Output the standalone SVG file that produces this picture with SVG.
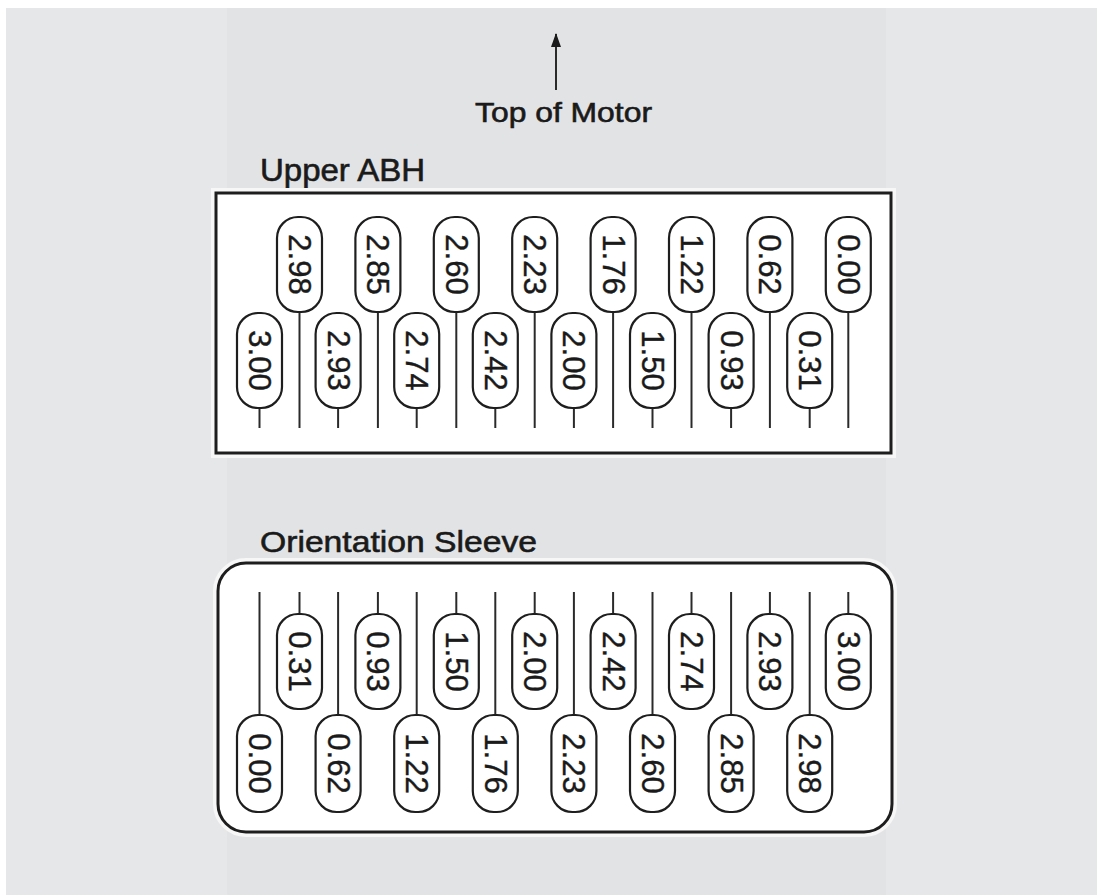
<svg xmlns="http://www.w3.org/2000/svg" width="1097" height="895" viewBox="0 0 1097 895">
<style>
.pill{fill:#ffffff;stroke:#1e1e1e;stroke-width:2.2}
.val{font-family:"Liberation Sans",Arial,sans-serif;font-size:31px;fill:#1a1a1a;stroke:#1a1a1a;stroke-width:0.4;text-anchor:middle;dominant-baseline:central}
.stem{stroke:#2a2a2a;stroke-width:2;fill:none}
.lbl{font-family:"Liberation Sans",Arial,sans-serif;fill:#1a1a1a;stroke:#1a1a1a;stroke-width:0.6}
.box{fill:#ffffff;stroke:#1e1e1e;stroke-width:3}
.halo{fill:none;stroke:#f7f7f8;stroke-width:10}
</style>
<defs>
<marker id="ah" markerWidth="14" markerHeight="10" refX="13" refY="5" orient="auto" markerUnits="userSpaceOnUse" viewBox="0 0 14 10">
<path d="M0,0 L14,5 L0,10 Z" fill="#1a1a1a"/>
</marker>
</defs>
<rect x="0" y="0" width="1097" height="895" fill="#ffffff"/>
<rect x="6" y="8" width="1091" height="887" fill="#e6e7e9"/>
<rect x="227" y="8" width="659" height="887" fill="#e2e3e5"/>

<g id="top-of-motor">
<text class="lbl" x="475" y="122" font-size="28" textLength="177" lengthAdjust="spacingAndGlyphs">Top of Motor</text>
</g>

<g id="upper-abh">
<text class="lbl" x="260" y="181" font-size="31" textLength="165" lengthAdjust="spacingAndGlyphs">Upper ABH</text>
<rect class="halo" x="216" y="193" width="675" height="260"/>
<rect class="box" x="216" y="193" width="675" height="260"/>
</g>

<g id="orientation-sleeve">
<text class="lbl" x="260" y="552" font-size="30" textLength="277" lengthAdjust="spacingAndGlyphs">Orientation Sleeve</text>
<rect class="halo" x="218" y="563" width="674" height="269" rx="28" ry="28"/>
<rect class="box" x="218" y="563" width="674" height="269" rx="28" ry="28"/>
</g>

<g id="connectors">
<line class="stem" x1="556" y1="90" x2="556" y2="34" marker-end="url(#ah)"/>
<!-- upper long stems -->
<line class="stem" x1="299.5" y1="312" x2="299.5" y2="428"/>
<line class="stem" x1="377.9" y1="312" x2="377.9" y2="428"/>
<line class="stem" x1="456.3" y1="312" x2="456.3" y2="428"/>
<line class="stem" x1="534.7" y1="312" x2="534.7" y2="428"/>
<line class="stem" x1="613.1" y1="312" x2="613.1" y2="428"/>
<line class="stem" x1="691.5" y1="312" x2="691.5" y2="428"/>
<line class="stem" x1="769.9" y1="312" x2="769.9" y2="428"/>
<line class="stem" x1="848.3" y1="312" x2="848.3" y2="428"/>
<!-- upper short stems -->
<line class="stem" x1="259.5" y1="408" x2="259.5" y2="428"/>
<line class="stem" x1="338.1" y1="408" x2="338.1" y2="428"/>
<line class="stem" x1="416.7" y1="408" x2="416.7" y2="428"/>
<line class="stem" x1="495.3" y1="408" x2="495.3" y2="428"/>
<line class="stem" x1="573.9" y1="408" x2="573.9" y2="428"/>
<line class="stem" x1="652.5" y1="408" x2="652.5" y2="428"/>
<line class="stem" x1="731.1" y1="408" x2="731.1" y2="428"/>
<line class="stem" x1="809.7" y1="408" x2="809.7" y2="428"/>
<!-- lower short stems -->
<line class="stem" x1="299.5" y1="592" x2="299.5" y2="614"/>
<line class="stem" x1="377.9" y1="592" x2="377.9" y2="614"/>
<line class="stem" x1="456.3" y1="592" x2="456.3" y2="614"/>
<line class="stem" x1="534.7" y1="592" x2="534.7" y2="614"/>
<line class="stem" x1="613.1" y1="592" x2="613.1" y2="614"/>
<line class="stem" x1="691.5" y1="592" x2="691.5" y2="614"/>
<line class="stem" x1="769.9" y1="592" x2="769.9" y2="614"/>
<line class="stem" x1="848.3" y1="592" x2="848.3" y2="614"/>
<!-- lower long stems -->
<line class="stem" x1="259.5" y1="592" x2="259.5" y2="715"/>
<line class="stem" x1="338.1" y1="592" x2="338.1" y2="715"/>
<line class="stem" x1="416.7" y1="592" x2="416.7" y2="715"/>
<line class="stem" x1="495.3" y1="592" x2="495.3" y2="715"/>
<line class="stem" x1="573.9" y1="592" x2="573.9" y2="715"/>
<line class="stem" x1="652.5" y1="592" x2="652.5" y2="715"/>
<line class="stem" x1="731.1" y1="592" x2="731.1" y2="715"/>
<line class="stem" x1="809.7" y1="592" x2="809.7" y2="715"/>
</g>

<!-- Upper ABH, top row -->
<g id="u-t1"><rect class="pill" x="277" y="217" width="45" height="95" rx="21"/><text class="val" transform="translate(299.5,264.5) rotate(90)">2.98</text></g>
<g id="u-t2"><rect class="pill" x="355.4" y="217" width="45" height="95" rx="21"/><text class="val" transform="translate(377.9,264.5) rotate(90)">2.85</text></g>
<g id="u-t3"><rect class="pill" x="433.8" y="217" width="45" height="95" rx="21"/><text class="val" transform="translate(456.3,264.5) rotate(90)">2.60</text></g>
<g id="u-t4"><rect class="pill" x="512.2" y="217" width="45" height="95" rx="21"/><text class="val" transform="translate(534.7,264.5) rotate(90)">2.23</text></g>
<g id="u-t5"><rect class="pill" x="590.6" y="217" width="45" height="95" rx="21"/><text class="val" transform="translate(613.1,264.5) rotate(90)">1.76</text></g>
<g id="u-t6"><rect class="pill" x="669" y="217" width="45" height="95" rx="21"/><text class="val" transform="translate(691.5,264.5) rotate(90)">1.22</text></g>
<g id="u-t7"><rect class="pill" x="747.4" y="217" width="45" height="95" rx="21"/><text class="val" transform="translate(769.9,264.5) rotate(90)">0.62</text></g>
<g id="u-t8"><rect class="pill" x="825.8" y="217" width="45" height="95" rx="21"/><text class="val" transform="translate(848.3,264.5) rotate(90)">0.00</text></g>
<!-- Upper ABH, bottom row -->
<g id="u-b1"><rect class="pill" x="237" y="313" width="45" height="95" rx="21"/><text class="val" transform="translate(259.5,360.5) rotate(90)">3.00</text></g>
<g id="u-b2"><rect class="pill" x="315.6" y="313" width="45" height="95" rx="21"/><text class="val" transform="translate(338.1,360.5) rotate(90)">2.93</text></g>
<g id="u-b3"><rect class="pill" x="394.2" y="313" width="45" height="95" rx="21"/><text class="val" transform="translate(416.7,360.5) rotate(90)">2.74</text></g>
<g id="u-b4"><rect class="pill" x="472.8" y="313" width="45" height="95" rx="21"/><text class="val" transform="translate(495.3,360.5) rotate(90)">2.42</text></g>
<g id="u-b5"><rect class="pill" x="551.4" y="313" width="45" height="95" rx="21"/><text class="val" transform="translate(573.9,360.5) rotate(90)">2.00</text></g>
<g id="u-b6"><rect class="pill" x="630" y="313" width="45" height="95" rx="21"/><text class="val" transform="translate(652.5,360.5) rotate(90)">1.50</text></g>
<g id="u-b7"><rect class="pill" x="708.6" y="313" width="45" height="95" rx="21"/><text class="val" transform="translate(731.1,360.5) rotate(90)">0.93</text></g>
<g id="u-b8"><rect class="pill" x="787.2" y="313" width="45" height="95" rx="21"/><text class="val" transform="translate(809.7,360.5) rotate(90)">0.31</text></g>

<!-- Orientation Sleeve, top row -->
<g id="s-t1"><rect class="pill" x="277" y="614" width="45" height="95" rx="21"/><text class="val" transform="translate(299.5,661.5) rotate(90)">0.31</text></g>
<g id="s-t2"><rect class="pill" x="355.4" y="614" width="45" height="95" rx="21"/><text class="val" transform="translate(377.9,661.5) rotate(90)">0.93</text></g>
<g id="s-t3"><rect class="pill" x="433.8" y="614" width="45" height="95" rx="21"/><text class="val" transform="translate(456.3,661.5) rotate(90)">1.50</text></g>
<g id="s-t4"><rect class="pill" x="512.2" y="614" width="45" height="95" rx="21"/><text class="val" transform="translate(534.7,661.5) rotate(90)">2.00</text></g>
<g id="s-t5"><rect class="pill" x="590.6" y="614" width="45" height="95" rx="21"/><text class="val" transform="translate(613.1,661.5) rotate(90)">2.42</text></g>
<g id="s-t6"><rect class="pill" x="669" y="614" width="45" height="95" rx="21"/><text class="val" transform="translate(691.5,661.5) rotate(90)">2.74</text></g>
<g id="s-t7"><rect class="pill" x="747.4" y="614" width="45" height="95" rx="21"/><text class="val" transform="translate(769.9,661.5) rotate(90)">2.93</text></g>
<g id="s-t8"><rect class="pill" x="825.8" y="614" width="45" height="95" rx="21"/><text class="val" transform="translate(848.3,661.5) rotate(90)">3.00</text></g>
<!-- Orientation Sleeve, bottom row -->
<g id="s-b1"><rect class="pill" x="237" y="715" width="45" height="97" rx="21"/><text class="val" transform="translate(259.5,763.5) rotate(90)">0.00</text></g>
<g id="s-b2"><rect class="pill" x="315.6" y="715" width="45" height="97" rx="21"/><text class="val" transform="translate(338.1,763.5) rotate(90)">0.62</text></g>
<g id="s-b3"><rect class="pill" x="394.2" y="715" width="45" height="97" rx="21"/><text class="val" transform="translate(416.7,763.5) rotate(90)">1.22</text></g>
<g id="s-b4"><rect class="pill" x="472.8" y="715" width="45" height="97" rx="21"/><text class="val" transform="translate(495.3,763.5) rotate(90)">1.76</text></g>
<g id="s-b5"><rect class="pill" x="551.4" y="715" width="45" height="97" rx="21"/><text class="val" transform="translate(573.9,763.5) rotate(90)">2.23</text></g>
<g id="s-b6"><rect class="pill" x="630" y="715" width="45" height="97" rx="21"/><text class="val" transform="translate(652.5,763.5) rotate(90)">2.60</text></g>
<g id="s-b7"><rect class="pill" x="708.6" y="715" width="45" height="97" rx="21"/><text class="val" transform="translate(731.1,763.5) rotate(90)">2.85</text></g>
<g id="s-b8"><rect class="pill" x="787.2" y="715" width="45" height="97" rx="21"/><text class="val" transform="translate(809.7,763.5) rotate(90)">2.98</text></g>
</svg>
